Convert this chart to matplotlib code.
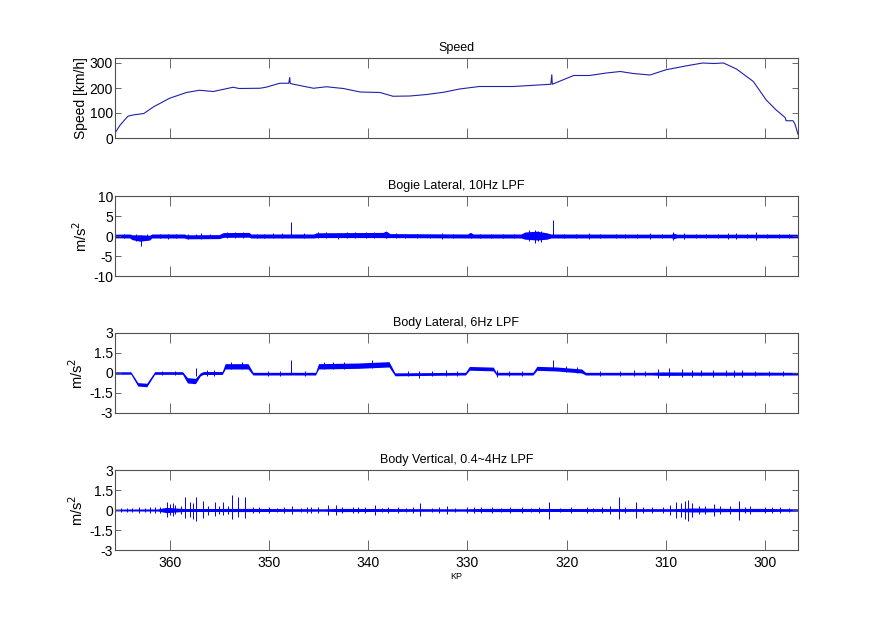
import numpy as np
import matplotlib
matplotlib.use("Agg")
import matplotlib.pyplot as plt

plt.rcParams['font.family'] = ['Liberation Sans Narrow', 'Liberation Sans', 'DejaVu Sans']
plt.rcParams['axes.unicode_minus'] = False

# --- Speed [km/h] vs KP
speed_kp = [365.5, 365.0, 364.2, 363.7, 362.6, 361.6, 360.0, 358.3, 357.0, 355.6,
            353.6, 353.0, 350.9, 350.3, 348.9, 348.0, 347.9, 347.85, 346.9, 345.5,
            344.2, 342.5, 340.8, 338.8, 337.5, 335.8, 334.1, 332.4, 330.8, 328.8,
            325.4, 323.7, 321.6, 321.5, 321.45, 319.3, 317.7, 316.0, 314.6, 313.3,
            311.6, 310.0, 307.9, 306.3, 305.2, 304.2, 302.9, 301.2, 299.9, 298.9,
            298.0, 297.9, 297.2, 297.0, 296.7]
speed_val = [20, 51, 87, 92, 98, 125, 159, 182, 191, 186,
             203, 198, 199, 203, 219, 219, 242, 218, 210, 199,
             205, 198, 184, 182, 167, 168, 174, 183, 196, 206,
             206, 210, 215, 253, 215, 250, 250, 260, 266, 258,
             252, 273, 289, 300, 298, 300, 276, 226, 152, 112,
             82, 69, 69, 55, 15]

# --- Bogie lateral, 10Hz LPF: centre level and envelope half-width
bogie_kp = [365.5, 364.0, 363.8, 363.0, 362.0, 361.8, 358.5, 358.3, 355.0, 354.6,
            352.0, 351.8, 345.5, 345.2, 338.5, 338.2, 337.8, 330.0, 329.7, 329.4,
            324.6, 324.2, 323.0, 322.0, 321.6, 309.5, 309.2, 308.9, 296.7]
bogie_level = [0.0, 0.0, -0.3, -0.5, -0.4, 0.0, 0.0, -0.2, -0.15, 0.25,
               0.3, 0.0, 0.0, 0.2, 0.25, 0.4, 0.1, 0.0, 0.2, 0.0,
               0.0, 0.1, 0.1, 0.0, 0.0, 0.0, 0.0, 0.0, 0.0]
bogie_half = [0.45, 0.5, 0.6, 0.8, 0.6, 0.5, 0.5, 0.5, 0.5, 0.6,
              0.6, 0.5, 0.5, 0.6, 0.65, 0.85, 0.5, 0.5, 0.7, 0.5,
              0.5, 0.9, 1.1, 0.8, 0.5, 0.45, 0.7, 0.45, 0.45]
bogie_spike_kp = [362.9, 360.2, 356.8, 350.5, 347.8, 343.0, 338.2, 329.6, 323.2, 322.6,
                  321.4, 315.0, 309.3, 306.0, 302.9, 300.9,
                  364.6, 363.4, 362.3, 361.0, 359.4, 358.1, 357.3, 355.9, 354.2, 353.4,
                  352.6, 351.2, 349.6, 348.7, 346.5, 345.1, 344.2, 342.1, 341.3, 340.2,
                  339.4, 337.2, 336.3, 335.1, 333.8, 332.6, 331.5, 328.7, 327.6, 326.4,
                  325.3, 323.8, 322.9, 320.3, 319.1, 317.8, 316.6, 314.1, 312.9, 311.6,
                  310.4, 308.2, 307.0, 304.8, 303.8, 301.8, 299.8, 298.6, 297.6]
bogie_spike_lo = [-2.6, -0.7, -0.7, -0.6, 0.0, -0.7, -0.6, -0.6, -1.7, -1.5,
                  0.0, -0.6, -0.9, -0.6, -0.8, -0.9,
                  -0.6, -1.2, -1.0, -0.6, -0.6, -0.7, -0.6, -0.6, -0.5, -0.5,
                  -0.5, -0.6, -0.6, -0.6, -0.5, -0.6, -0.5, -0.6, -0.5, -0.6,
                  -0.6, -0.6, -0.6, -0.6, -0.6, -0.7, -0.6, -0.6, -0.6, -0.6,
                  -0.6, -1.3, -1.2, -0.6, -0.6, -0.7, -0.6, -0.6, -0.6, -0.7,
                  -0.6, -0.7, -0.6, -0.6, -0.7, -0.6, -0.6, -0.6, -0.6]
bogie_spike_hi = [0.3, 0.6, 0.7, 0.6, 3.6, 0.8, 1.0, 0.8, 1.5, 1.3,
                  4.0, 0.6, 0.9, 0.6, 0.8, 0.9,
                  0.6, 0.5, 0.4, 0.6, 0.6, 0.5, 0.6, 0.6, 1.0, 1.0,
                  1.0, 0.6, 0.7, 0.7, 0.8, 0.9, 0.9, 1.0, 0.9, 1.0,
                  1.0, 0.7, 0.6, 0.6, 0.6, 0.7, 0.6, 0.6, 0.6, 0.6,
                  0.6, 1.4, 1.3, 0.6, 0.6, 0.7, 0.6, 0.6, 0.6, 0.7,
                  0.6, 0.7, 0.6, 0.6, 0.7, 0.6, 0.6, 0.6, 0.6]

# --- Body lateral, 6Hz LPF
blat_kp = [365.5, 363.9, 363.2, 362.3, 361.5, 358.7, 358.2, 357.4, 356.9, 356.6,
           354.7, 354.4, 352.1, 351.6, 345.3, 345.0, 341.0, 337.9, 337.3, 330.2,
           329.8, 327.4, 327.1, 323.4, 323.0, 321.0, 318.5, 318.1, 311.5, 310.5,
           306.0, 302.0, 296.7]
blat_level = [0.0, 0.0, -0.85, -0.9, 0.0, 0.0, -0.55, -0.6, -0.1, 0.0,
              0.0, 0.5, 0.5, -0.05, -0.05, 0.5, 0.55, 0.65, -0.1, -0.05,
              0.35, 0.3, -0.05, -0.05, 0.35, 0.3, 0.15, -0.05, -0.05, -0.05,
              -0.05, -0.05, -0.05]
blat_half = [0.09, 0.09, 0.13, 0.13, 0.1, 0.1, 0.2, 0.2, 0.11, 0.11,
             0.11, 0.2, 0.2, 0.1, 0.1, 0.2, 0.2, 0.2, 0.11, 0.1,
             0.14, 0.14, 0.1, 0.1, 0.15, 0.15, 0.15, 0.1, 0.1, 0.13,
             0.12, 0.12, 0.1]
blat_spike_kp = [357.3, 356.2, 347.8, 343.5, 334.9, 327.0, 321.4, 310.8, 309.7,
                 308.4, 306.5, 304.0, 302.3,
                 360.8, 359.5, 355.5, 353.8, 352.7, 350.1, 348.9, 346.4, 344.4, 342.4,
                 339.6, 336.0, 333.6, 332.2, 331.0, 325.8, 324.5, 320.1, 319.0, 316.6,
                 314.6, 313.2, 312.1, 307.4, 305.3, 303.1, 301.0, 299.6, 298.2]
blat_spike_lo = [-0.2, -0.2, 0.0, 0.3, -0.35, -0.3, 0.2, -0.35, -0.3,
                 -0.3, -0.25, -0.25, -0.3,
                 -0.15, -0.15, -0.2, 0.3, 0.3, -0.2, -0.2, -0.2, 0.3, 0.3,
                 0.35, -0.25, -0.2, -0.25, -0.2, -0.2, -0.2, 0.1, 0.0, -0.2,
                 -0.2, -0.25, -0.2, -0.3, -0.3, -0.3, -0.2, -0.2, -0.2]
blat_spike_hi = [0.35, 0.25, 0.95, 0.8, 0.15, 0.2, 1.0, 0.3, 0.35,
                 0.3, 0.25, 0.25, 0.25,
                 0.15, 0.15, 0.2, 0.8, 0.8, 0.15, 0.15, 0.15, 0.8, 0.8,
                 0.95, 0.15, 0.15, 0.2, 0.15, 0.15, 0.15, 0.55, 0.45, 0.15,
                 0.15, 0.2, 0.15, 0.25, 0.25, 0.25, 0.15, 0.15, 0.15]

# --- Body vertical, 0.4~4Hz LPF: baseline half-width and bursts
bver_kp = [365.5, 361.2, 360.3, 359.4, 358.5, 352.0, 344.5, 343.0, 330.5, 328.0,
           309.3, 307.3, 303.5, 300.5, 296.7]
bver_half = [0.07, 0.08, 0.2, 0.15, 0.11, 0.12, 0.09, 0.12, 0.09, 0.12,
             0.1, 0.15, 0.12, 0.12, 0.09]
bver_spike_kp = [363.8, 362.0, 361.0, 360.3, 360.0, 359.7, 359.5, 358.4, 357.9, 357.6,
                 357.3, 356.6, 355.4, 354.6, 353.7, 353.1, 352.4, 350.0, 347.7, 345.8,
                 344.0, 343.2, 341.5, 339.3, 337.0, 334.8, 332.1, 330.0, 327.5, 324.5,
                 321.8, 318.0, 314.7, 313.0, 309.0, 308.5, 308.1, 307.8, 307.4, 305.2,
                 303.5, 302.6, 301.5, 300.0, 298.5,
                 364.9, 364.3, 363.1, 362.5, 361.5, 358.9, 356.1, 355.0, 354.1, 351.6,
                 351.0, 349.2, 348.5, 346.8, 346.2, 345.1, 342.6, 341.0, 340.3, 338.6,
                 338.0, 336.2, 335.5, 333.6, 332.9, 331.3, 329.3, 328.6, 326.6, 325.7,
                 323.6, 322.8, 320.7, 319.6, 317.3, 316.4, 315.6, 314.1, 312.3, 311.4,
                 310.3, 309.6, 306.7, 306.1, 304.6, 302.0, 299.3, 297.6]
bver_spike_lo = [-0.15, -0.2, -0.2, -0.5, -0.4, -0.45, -0.3, -0.6, -0.5, -0.7,
                 -0.85, -0.6, -0.45, -0.35, -0.7, -0.5, -0.6, -0.2, -0.3, -0.2,
                 -0.35, -0.4, -0.25, -0.35, -0.2, -0.45, -0.3, -0.2, -0.2, -0.2,
                 -0.7, -0.2, -0.7, -0.6, -0.6, -0.5, -0.7, -0.85, -0.5, -0.45,
                 -0.3, -0.75, -0.3, -0.25, -0.2,
                 -0.12, -0.15, -0.2, -0.15, -0.25, -0.3, -0.35, -0.3, -0.3, -0.2,
                 -0.2, -0.15, -0.2, -0.15, -0.2, -0.25, -0.25, -0.2, -0.2, -0.15,
                 -0.2, -0.15, -0.2, -0.15, -0.2, -0.15, -0.2, -0.25, -0.15, -0.2,
                 -0.15, -0.2, -0.15, -0.2, -0.15, -0.2, -0.3, -0.2, -0.2, -0.2,
                 -0.25, -0.4, -0.3, -0.3, -0.3, -0.25, -0.2, -0.15]
bver_spike_hi = [0.15, 0.2, 0.2, 0.6, 0.45, 0.5, 0.35, 0.95, 0.6, 0.55,
                 1.0, 0.7, 0.6, 0.6, 1.1, 0.95, 1.0, 0.2, 0.3, 0.2,
                 0.35, 0.4, 0.25, 0.35, 0.2, 0.5, 0.3, 0.2, 0.2, 0.2,
                 0.6, 0.2, 0.95, 0.6, 0.6, 0.5, 0.7, 0.75, 0.5, 0.45,
                 0.3, 0.7, 0.3, 0.25, 0.2,
                 0.12, 0.15, 0.2, 0.15, 0.25, 0.3, 0.3, 0.3, 0.3, 0.2,
                 0.2, 0.15, 0.2, 0.15, 0.2, 0.25, 0.25, 0.2, 0.2, 0.15,
                 0.2, 0.15, 0.2, 0.15, 0.2, 0.15, 0.2, 0.25, 0.15, 0.2,
                 0.15, 0.2, 0.15, 0.2, 0.15, 0.2, 0.3, 0.2, 0.2, 0.2,
                 0.25, 0.4, 0.3, 0.3, 0.3, 0.25, 0.2, 0.15]

titles = ["Speed", "Bogie Lateral, 10Hz LPF", "Body Lateral, 6Hz LPF",
          "Body Vertical, 0.4~4Hz LPF"]
xticks = [360, 350, 340, 330, 320, 310, 300]

fig = plt.figure(figsize=(8.81, 6.27), dpi=100)
W, H = 881.0, 627.0
tops = [58, 196, 333, 470]
axes = []
for t in tops:
    ax = fig.add_axes([115 / W, 1 - (t + 80) / H, 683 / W, 80 / H])
    axes.append(ax)

blue = "#0000ff"
ax = axes[0]
ax.plot(speed_kp, speed_val, color="#2020a8", lw=0.8)
ax.set_ylim(0, 320)
ax.set_yticks([0, 100, 200, 300])
ax.set_ylabel("Speed [km/h]", fontsize=10, labelpad=1)

ax = axes[1]
lv = np.array(bogie_level)
hw = np.array(bogie_half)
ax.fill_between(bogie_kp, lv - hw, lv + hw, color=blue, lw=0)
ax.vlines(bogie_spike_kp, bogie_spike_lo, bogie_spike_hi, color=blue, lw=0.7)
ax.set_ylim(-10, 10)
ax.set_yticks([10, 5, 0, -5, -10])

ax = axes[2]
lv = np.array(blat_level)
hw = np.array(blat_half)
ax.fill_between(blat_kp, lv - hw, lv + hw, color=blue, lw=0)
ax.vlines(blat_spike_kp, blat_spike_lo, blat_spike_hi, color=blue, lw=0.7)
ax.set_ylim(-3, 3)
ax.set_yticks([3, 1.5, 0, -1.5, -3])
ax.set_yticklabels(["3", "1.5", "0", "-1.5", "-3"])

ax = axes[3]
hw = np.array(bver_half)
ax.fill_between(bver_kp, -hw, hw, color=blue, lw=0)
ax.vlines(bver_spike_kp, bver_spike_lo, bver_spike_hi, color=blue, lw=0.7)
ax.set_ylim(-3, 3)
ax.set_yticks([3, 1.5, 0, -1.5, -3])
ax.set_yticklabels(["3", "1.5", "0", "-1.5", "-3"])
ax.set_xlabel("KP", fontsize=6.5, labelpad=2)

for i, ax in enumerate(axes):
    ax.set_xlim(365.5, 296.7)
    ax.set_xticks(xticks)
    ax.set_title(titles[i], fontsize=9, pad=5)
    if i > 0:
        ax.set_ylabel("m/s$^2$", fontsize=10.5, labelpad=2)
    if i < 3:
        ax.set_xticklabels([])
    for s in ax.spines.values():
        s.set_color("#505050")
        s.set_linewidth(0.8)
    ax.tick_params(axis="x", direction="in", length=7.5, width=0.6, color="#505050",
                   top=True, labelsize=10, pad=4)
    ax.tick_params(axis="y", direction="in", length=4, width=0.6, color="#505050",
                   right=True, labelsize=10, pad=1.5)

fig.savefig("out.png", dpi=100)
